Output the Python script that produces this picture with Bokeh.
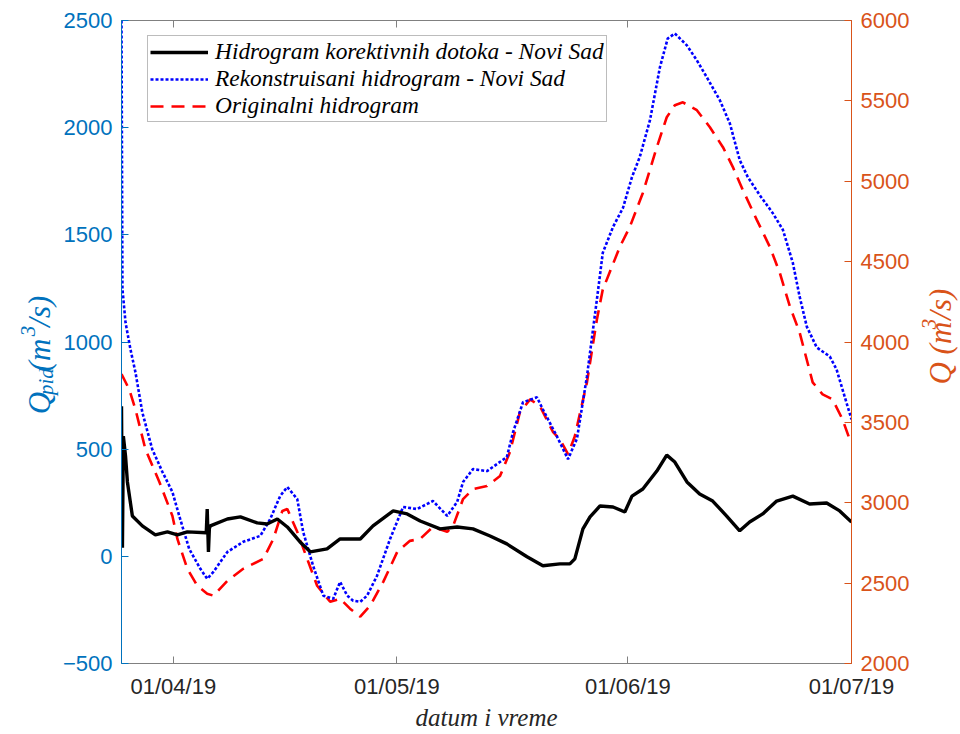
import math
import pandas as pd
from bokeh.plotting import figure
from bokeh.layouts import row
from bokeh.models import (Range1d, LinearAxis, DatetimeAxis, FixedTicker, DatetimeTickFormatter,
                          ColumnDataSource, Legend, LegendItem, Label)
from bokeh.embed import file_html
from bokeh.resources import INLINE

# ---------------- data ----------------
x_start = "2019-03-25 01:00"
x_end = "2019-07-01 00:00"
tick_dates = ["2019-04-01", "2019-05-01", "2019-06-01", "2019-07-01"]
left_ticks = [-500, 0, 500, 1000, 1500, 2000, 2500]
right_ticks = [2000, 2500, 3000, 3500, 4000, 4500, 5000, 5500, 6000]

# Hidrogram korektivnih dotoka - Novi Sad  (left axis, Q_pid)
pid_dates = ["2019-03-25 01:00", "2019-03-25 04:00", "2019-03-25 07:00", "2019-03-25 14:00",
             "2019-03-25 20:00", "2019-03-26 12:00", "2019-03-27 20:00", "2019-03-29 14:00",
             "2019-03-31 05:00", "2019-04-01 13:00", "2019-04-02 21:00", "2019-04-05 10:00",
             "2019-04-05 13:00", "2019-04-05 17:00", "2019-04-05 20:00", "2019-04-05 23:00",
             "2019-04-08 06:00", "2019-04-10 00:00", "2019-04-12 06:00", "2019-04-13 14:00",
             "2019-04-14 23:00", "2019-04-16 07:00", "2019-04-18 00:00", "2019-04-19 09:00",
             "2019-04-21 15:00", "2019-04-23 09:00", "2019-04-26 02:00", "2019-04-27 19:00",
             "2019-04-30 12:00", "2019-05-02 09:00", "2019-05-04 03:00", "2019-05-06 19:00",
             "2019-05-09 02:00", "2019-05-11 05:00", "2019-05-13 12:00", "2019-05-15 18:00",
             "2019-05-18 11:00", "2019-05-20 14:00", "2019-05-22 21:00", "2019-05-24 05:00",
             "2019-05-24 21:00", "2019-05-25 23:00", "2019-05-26 22:00", "2019-05-28 06:00",
             "2019-05-30 00:00", "2019-05-31 14:00", "2019-06-01 13:00", "2019-06-03 00:00",
             "2019-06-04 21:00", "2019-06-06 05:00", "2019-06-07 07:00", "2019-06-08 22:00",
             "2019-06-10 15:00", "2019-06-12 09:00", "2019-06-14 06:00", "2019-06-16 00:00",
             "2019-06-17 08:00", "2019-06-19 02:00", "2019-06-20 23:00", "2019-06-23 03:00",
             "2019-06-25 09:00", "2019-06-27 16:00", "2019-06-29 10:00", "2019-07-01 00:00"]
pid_values = [700, 40, 560, 467, 347, 188, 142, 100,
              114, 100, 114, 110,
              221, 21, 130, 142,
              174, 184, 156, 151,
              174, 137, 67, 21,
              35, 81, 81, 142,
              212, 198, 165, 128,
              137, 128, 95, 58,
              -2, -44, -35, -35,
              -12, 128, 184, 235,
              230, 207, 281, 314,
              398, 472, 440, 347,
              291, 258, 188, 119,
              160, 198, 258, 281,
              244, 249, 212, 160]

# Rekonstruisani hidrogram - Novi Sad  (right axis, Q)
rek_dates = ["2019-03-25 01:00", "2019-03-25 04:00", "2019-03-25 14:00", "2019-03-26 06:00",
             "2019-03-26 22:00", "2019-03-27 20:00", "2019-03-29 04:00", "2019-03-30 13:00",
             "2019-03-31 21:00", "2019-04-01 19:00", "2019-04-03 03:00", "2019-04-04 15:00",
             "2019-04-05 13:00", "2019-04-06 09:00", "2019-04-08 06:00", "2019-04-10 09:00",
             "2019-04-12 16:00", "2019-04-14 00:00", "2019-04-15 08:00", "2019-04-16 07:00",
             "2019-04-17 15:00", "2019-04-18 10:00", "2019-04-19 18:00", "2019-04-21 03:00",
             "2019-04-22 11:00", "2019-04-23 09:00", "2019-04-24 08:00", "2019-04-25 03:00",
             "2019-04-26 02:00", "2019-04-27 00:00", "2019-04-28 08:00", "2019-04-30 02:00",
             "2019-05-01 20:00", "2019-05-03 17:00", "2019-05-05 20:00", "2019-05-07 18:00",
             "2019-05-09 02:00", "2019-05-09 21:00", "2019-05-11 05:00", "2019-05-13 02:00",
             "2019-05-15 18:00", "2019-05-16 14:00", "2019-05-17 22:00", "2019-05-19 19:00",
             "2019-05-20 14:00", "2019-05-22 11:00", "2019-05-23 23:00", "2019-05-25 04:00",
             "2019-05-26 12:00", "2019-05-27 20:00", "2019-05-28 15:00", "2019-05-30 00:00",
             "2019-05-31 08:00", "2019-06-01 13:00", "2019-06-02 14:00", "2019-06-03 23:00",
             "2019-06-05 07:00", "2019-06-06 08:00", "2019-06-07 07:00", "2019-06-08 22:00",
             "2019-06-10 06:00", "2019-06-11 14:00", "2019-06-13 08:00", "2019-06-14 16:00",
             "2019-06-16 00:00", "2019-06-17 02:00", "2019-06-18 16:00", "2019-06-20 10:00",
             "2019-06-21 19:00", "2019-06-23 03:00", "2019-06-24 01:00", "2019-06-25 00:00",
             "2019-06-26 08:00", "2019-06-28 02:00", "2019-06-29 00:00", "2019-06-29 19:00",
             "2019-07-01 00:00"]
rek_values = [6000, 4330, 4121, 3953,
              3811, 3563, 3333, 3191,
              3067, 2918, 2713, 2589,
              2527, 2570, 2694, 2757,
              2794, 2899, 3042, 3098,
              3023, 2819, 2608, 2422,
              2403, 2508, 2422, 2391,
              2384, 2422, 2546, 2775,
              2974, 2961, 3011, 2918,
              3005, 3129, 3209, 3197,
              3284, 3439, 3625, 3656,
              3581, 3414, 3271, 3400,
              3786, 4264, 4555, 4716,
              4834, 5026, 5150, 5380,
              5709, 5888, 5919, 5845,
              5752, 5647, 5504, 5361,
              5132, 5026, 4915, 4803,
              4698, 4493, 4282, 4096,
              3966, 3910, 3829, 3705,
              3519]

# Originalni hidrogram  (right axis, Q)
org_dates = ["2019-03-25 01:00", "2019-03-26 02:00", "2019-03-26 22:00", "2019-03-28 06:00",
             "2019-03-30 03:00", "2019-03-31 21:00", "2019-04-01 13:00", "2019-04-02 21:00",
             "2019-04-04 05:00", "2019-04-05 13:00", "2019-04-06 09:00", "2019-04-08 06:00",
             "2019-04-10 09:00", "2019-04-13 02:00", "2019-04-14 10:00", "2019-04-15 15:00",
             "2019-04-16 07:00", "2019-04-17 15:00", "2019-04-18 23:00", "2019-04-20 07:00",
             "2019-04-22 01:00", "2019-04-23 09:00", "2019-04-24 17:00", "2019-04-26 02:00",
             "2019-04-27 10:00", "2019-04-29 04:00", "2019-05-01 01:00", "2019-05-02 18:00",
             "2019-05-04 03:00", "2019-05-05 20:00", "2019-05-07 18:00", "2019-05-08 13:00",
             "2019-05-09 21:00", "2019-05-11 05:00", "2019-05-13 02:00", "2019-05-14 20:00",
             "2019-05-16 04:00", "2019-05-17 12:00", "2019-05-18 21:00", "2019-05-20 05:00",
             "2019-05-21 23:00", "2019-05-22 21:00", "2019-05-23 23:00", "2019-05-24 21:00",
             "2019-05-26 12:00", "2019-05-27 20:00", "2019-05-28 15:00", "2019-05-30 22:00",
             "2019-06-01 06:00", "2019-06-03 00:00", "2019-06-04 21:00", "2019-06-06 05:00",
             "2019-06-07 07:00", "2019-06-08 09:00", "2019-06-10 06:00", "2019-06-12 00:00",
             "2019-06-13 18:00", "2019-06-15 02:00", "2019-06-16 10:00", "2019-06-18 07:00",
             "2019-06-20 01:00", "2019-06-21 09:00", "2019-06-22 17:00", "2019-06-24 01:00",
             "2019-06-25 19:00", "2019-06-27 03:00", "2019-06-28 11:00", "2019-06-29 19:00",
             "2019-06-30 18:00", "2019-07-01 00:00"]
org_values = [3800, 3705, 3581, 3333,
              3129, 2918, 2775, 2589,
              2484, 2434, 2422, 2515,
              2589, 2651, 2775, 2949,
              2961, 2819, 2651, 2484,
              2384, 2403, 2341, 2291,
              2360, 2508, 2694, 2763,
              2775, 2850, 2819, 2856,
              3023, 3085, 3104, 3166,
              3315, 3563, 3643, 3600,
              3439, 3395, 3302, 3414,
              3749, 4140, 4326, 4592,
              4716, 4927, 5212, 5398,
              5473, 5491, 5442, 5336,
              5212, 5088, 4946, 4760,
              4592, 4431, 4224, 4059,
              3749, 3674, 3643, 3519,
              3395, 3370]

legend_labels = ["Hidrogram korektivnih dotoka - Novi Sad",
                 "Rekonstruisani hidrogram - Novi Sad",
                 "Originalni hidrogram"]

# ---------------- styles ----------------
BLUE_AX = "#0072BD"
ORANGE_AX = "#D95319"
GRAY = "#808080"
TXT = "#262626"
SANS = "Liberation Sans"
SERIF = "Liberation Serif"
H = 733
TICK_FS = "22px"
LEFT_W, MAIN_W, RIGHT_W = 59, 853, 46

p = figure(width=MAIN_W, height=H, output_backend="svg", toolbar_location=None,
           x_axis_type="datetime",
           x_range=Range1d(pd.Timestamp(x_start), pd.Timestamp(x_end)),
           y_range=Range1d(-500, 2500),
           min_border_left=62, min_border_right=60, min_border_top=20, min_border_bottom=68)
p.extra_y_ranges = {"right": Range1d(2000, 6000)}
p.xgrid.visible = False
p.ygrid.visible = False
p.outline_line_color = GRAY
p.outline_line_width = 1
p.background_fill_color = "white"
p.border_fill_color = "white"

tick_ms = [pd.Timestamp(d).value // 10**6 for d in tick_dates]
fmt = "%d/%m/%y"
dt_fmt = DatetimeTickFormatter(microseconds=fmt, milliseconds=fmt, seconds=fmt, minsec=fmt,
                               minutes=fmt, hourmin=fmt, hours=fmt, days=fmt, months=fmt, years=fmt)

xa = p.xaxis[0]
xa.ticker = FixedTicker(ticks=tick_ms)
xa.formatter = dt_fmt
xa.major_tick_in = 7
xa.major_tick_out = 0
xa.minor_tick_in = 0
xa.minor_tick_out = 0
xa.axis_line_color = GRAY
xa.major_tick_line_color = GRAY
xa.major_label_text_font = SANS
xa.major_label_text_font_size = TICK_FS
xa.major_label_text_color = TXT
xa.major_label_standoff = 10
xa.axis_label = "datum i vreme"
xa.axis_label_text_font = SERIF
xa.axis_label_text_font_style = "italic"
xa.axis_label_text_font_size = "25px"
xa.axis_label_text_color = TXT
xa.axis_label_standoff = 2

top = DatetimeAxis(ticker=FixedTicker(ticks=tick_ms), formatter=dt_fmt,
                   major_tick_in=7, major_tick_out=0, minor_tick_in=0, minor_tick_out=0,
                   axis_line_color=GRAY, major_tick_line_color=GRAY,
                   major_label_text_font_size="2px", major_label_standoff=1,
                   major_label_text_alpha=0.0)
p.add_layout(top, "above")

ya = p.yaxis[0]
ya.ticker = FixedTicker(ticks=left_ticks)
ya.major_tick_in = 7
ya.major_tick_out = 0
ya.minor_tick_in = 0
ya.minor_tick_out = 0
for attr in ("axis_line_color", "major_tick_line_color", "major_label_text_color"):
    setattr(ya, attr, BLUE_AX)
ya.major_label_text_font = SANS
ya.major_label_text_font_size = TICK_FS
ya.major_label_standoff = 9

ra = LinearAxis(y_range_name="right", ticker=FixedTicker(ticks=right_ticks),
                major_tick_in=7, major_tick_out=0, minor_tick_in=0, minor_tick_out=0,
                axis_line_color=ORANGE_AX, major_tick_line_color=ORANGE_AX,
                major_label_text_color=ORANGE_AX, major_label_text_font=SANS,
                major_label_text_font_size=TICK_FS, major_label_standoff=9)
p.add_layout(ra, "right")

src_pid = ColumnDataSource(dict(x=pd.to_datetime(pid_dates), y=pid_values))
src_rek = ColumnDataSource(dict(x=pd.to_datetime(rek_dates), y=rek_values))
src_org = ColumnDataSource(dict(x=pd.to_datetime(org_dates), y=org_values))

r_org = p.line("x", "y", source=src_org, y_range_name="right", line_color="#FF0000",
               line_width=2.6, line_dash="13 8")
r_rek = p.line("x", "y", source=src_rek, y_range_name="right", line_color="#0000FF",
               line_width=2.6, line_dash="3 2")
r_pid = p.line("x", "y", source=src_pid, line_color="black", line_width=3.4)

legend = Legend(items=[LegendItem(label=legend_labels[0], renderers=[r_pid]),
                       LegendItem(label=legend_labels[1], renderers=[r_rek]),
                       LegendItem(label=legend_labels[2], renderers=[r_org])],
                location=(26, 541), margin=0, padding=2, spacing=0,
                glyph_width=58, glyph_height=20, label_height=20, label_standoff=7,
                label_text_font=SERIF, label_text_font_style="italic",
                label_text_font_size="23.4px", label_text_color="black",
                border_line_color="#7a7a7a", border_line_width=1,
                background_fill_color="white", background_fill_alpha=1.0)
p.add_layout(legend)


# ---------------- side panels holding the axis titles (sub/superscripts) ----------------
def side_fig(w):
    f = figure(width=w, height=H, output_backend="svg", toolbar_location=None,
               x_range=Range1d(0, w), y_range=Range1d(0, H),
               x_axis_location=None, y_axis_location=None, min_border=0)
    f.outline_line_color = None
    f.grid.visible = False
    f.background_fill_color = "white"
    f.border_fill_color = "white"
    return f


def piece(f, text, x, y, size, color):
    f.add_layout(Label(x=x, y=y, text=text, angle=math.pi / 2, text_align="left",
                       text_baseline="alphabetic", text_font=SERIF, text_font_style="italic",
                       text_font_size=f"{size}px", text_color=color))


big, small = 31, 21
fl = side_fig(LEFT_W)
lx, ly = 39, 284
piece(fl, "Q", lx, ly, big, BLUE_AX)
piece(fl, "pid", lx + 6, ly + 22, small, BLUE_AX)
piece(fl, " (m", lx, ly + 49, big, BLUE_AX)
piece(fl, "3", lx - 12, ly + 89, small, BLUE_AX)
piece(fl, "/s)", lx, ly + 100, big, BLUE_AX)

fr = side_fig(RIGHT_W)
rx, ry = 28, 318
piece(fr, "Q (m", rx, ry, big, ORANGE_AX)
piece(fr, "3", rx - 12, ry + 63, small, ORANGE_AX)
piece(fr, "/s)", rx, ry + 74, big, ORANGE_AX)

layout = row(fl, p, fr, spacing=0)
open("out.html", "w").write(file_html(layout, INLINE))
